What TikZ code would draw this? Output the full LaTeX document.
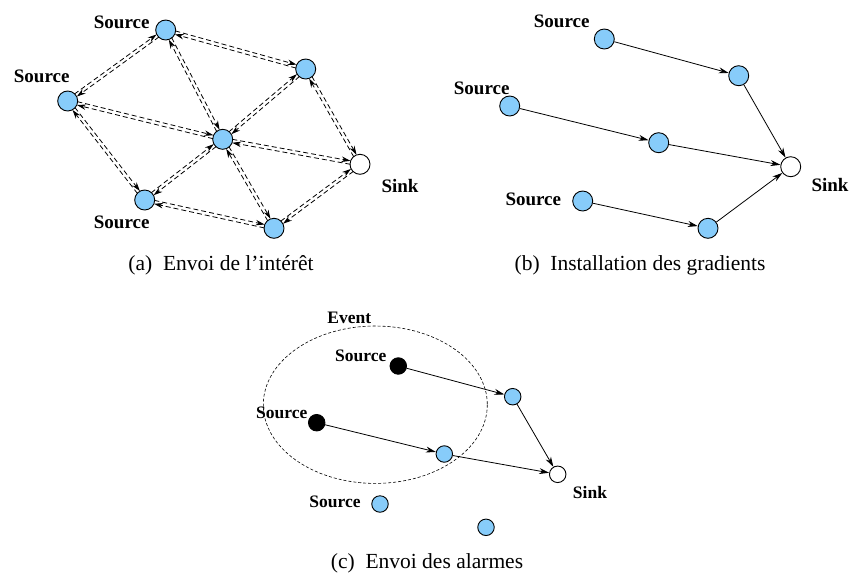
\documentclass[tikz,border=0pt]{standalone}
\usepackage{fontspec}
\setmainfont{Liberation Serif}
\usetikzlibrary{calc,arrows.meta}
\definecolor{nodeblue}{RGB}{135,204,250}
\tikzset{
  bnode/.style={circle,draw=black,line width=0.9pt,fill=nodeblue,minimum size=20pt,inner sep=0pt},
  wnode/.style={circle,draw=black,line width=0.9pt,fill=white,minimum size=20pt,inner sep=0pt},
  bnodec/.style={bnode,minimum size=16.5pt},
  wnodec/.style={wnode,minimum size=16.5pt},
  knodec/.style={circle,draw=black,line width=0.9pt,fill=black,minimum size=16.5pt,inner sep=0pt},
  lbl/.style={font=\fontsize{19}{22}\selectfont\bfseries,inner sep=0pt},
  lblc/.style={font=\fontsize{17.5}{20}\selectfont\bfseries,inner sep=0pt},
  captxt/.style={font=\fontsize{21.5}{24}\selectfont,inner sep=0pt},
  dar/.style={line width=0.8pt,dash pattern=on 5pt off 3pt,-{Stealth[length=9pt,width=5.5pt]}},
  sar/.style={line width=0.8pt,-{Stealth[length=10pt,width=6pt]}},
}
\newcommand\dblarrow[2]{%
  \draw[dar,shorten <=9.5pt,shorten >=10pt] ($(#1.center)!1.7pt!90:(#2.center)$) -- ($(#2.center)!1.7pt!-90:(#1.center)$);
  \draw[dar,shorten <=9.5pt,shorten >=10pt] ($(#2.center)!1.7pt!90:(#1.center)$) -- ($(#1.center)!1.7pt!-90:(#2.center)$);
}
\begin{document}
\begin{tikzpicture}[x=1pt,y=-1pt]
\useasboundingbox (0,0) rectangle (851,579);
% ---------- panel (a)
\node[bnode] (a1) at (165.7,30) {};
\node[bnode] (a2) at (67.7,101) {};
\node[bnode] (a3) at (305.7,69) {};
\node[bnode] (a4) at (222.7,139.3) {};
\node[wnode] (a5) at (360,164.3) {};
\node[bnode] (a6) at (144.7,200) {};
\node[bnode] (a7) at (274,228.3) {};
\node[lbl] (la1) at (121.7,22.7) {Source};
\node[lbl] (la2) at (41.7,76) {Source};
\node[lbl] (la6) at (121.7,222.7) {Source};
\node[lbl] (la5) at (400,186) {Sink};
\dblarrow{a1}{a2}
\dblarrow{a1}{a3}
\dblarrow{a1}{a4}
\dblarrow{a2}{a4}
\dblarrow{a2}{a6}
\dblarrow{a3}{a4}
\dblarrow{a3}{a5}
\dblarrow{a4}{a5}
\dblarrow{a4}{a6}
\dblarrow{a4}{a7}
\dblarrow{a6}{a7}
\dblarrow{a7}{a5}
\node[captxt] (capa) at (221,265) {(a)\enspace Envoi de l'intérêt};
% ---------- panel (b)
\node[bnode] (b1) at (604.3,39) {};
\node[bnode] (b2) at (738.7,75.7) {};
\node[bnode] (b3) at (509.7,106) {};
\node[bnode] (b4) at (658.7,142.7) {};
\node[wnode] (b5) at (790.7,166.7) {};
\node[bnode] (b6) at (582.7,201) {};
\node[bnode] (b7) at (708,228.3) {};
\node[lbl] (lb1) at (561.7,21.7) {Source};
\node[lbl] (lb3) at (481.7,88.3) {Source};
\node[lbl] (lb6) at (533.3,199.3) {Source};
\node[lbl] (lb5) at (830,185) {Sink};
\draw[sar] (b1) -- (b2);
\draw[sar] (b2) -- (b5);
\draw[sar] (b3) -- (b4);
\draw[sar] (b4) -- (b5);
\draw[sar] (b6) -- (b7);
\draw[sar] (b7) -- (b5);
\node[captxt] (capb) at (640,265) {(b)\enspace Installation des gradients};
% ---------- panel (c)
\draw[line width=0.6pt,dash pattern=on 3pt off 2pt] (375.3,404.7) ellipse [x radius=112, y radius=78.7];
\node[knodec] (c1) at (398.3,366) {};
\node[bnodec] (c2) at (512.7,396.7) {};
\node[knodec] (c3) at (316.7,422.7) {};
\node[bnodec] (c4) at (444.3,454) {};
\node[wnodec] (c5) at (557.7,474.3) {};
\node[bnodec] (c6) at (380,504) {};
\node[bnodec] (c7) at (486,527.3) {};
\node[lblc] (lev) at (349.3,318.3) {Event};
\node[lblc] (lc1) at (360.7,356) {Source};
\node[lblc] (lc3) at (281.7,412.7) {Source};
\node[lblc] (lc6) at (335,501.7) {Source};
\node[lblc] (lc5) at (590,492.7) {Sink};
\draw[sar] (c1) -- (c2);
\draw[sar] (c3) -- (c4);
\draw[sar] (c2) -- (c5);
\draw[sar] (c4) -- (c5);
\node[captxt] (capc) at (427,563) {(c)\enspace Envoi des alarmes};
\end{tikzpicture}
\end{document}
